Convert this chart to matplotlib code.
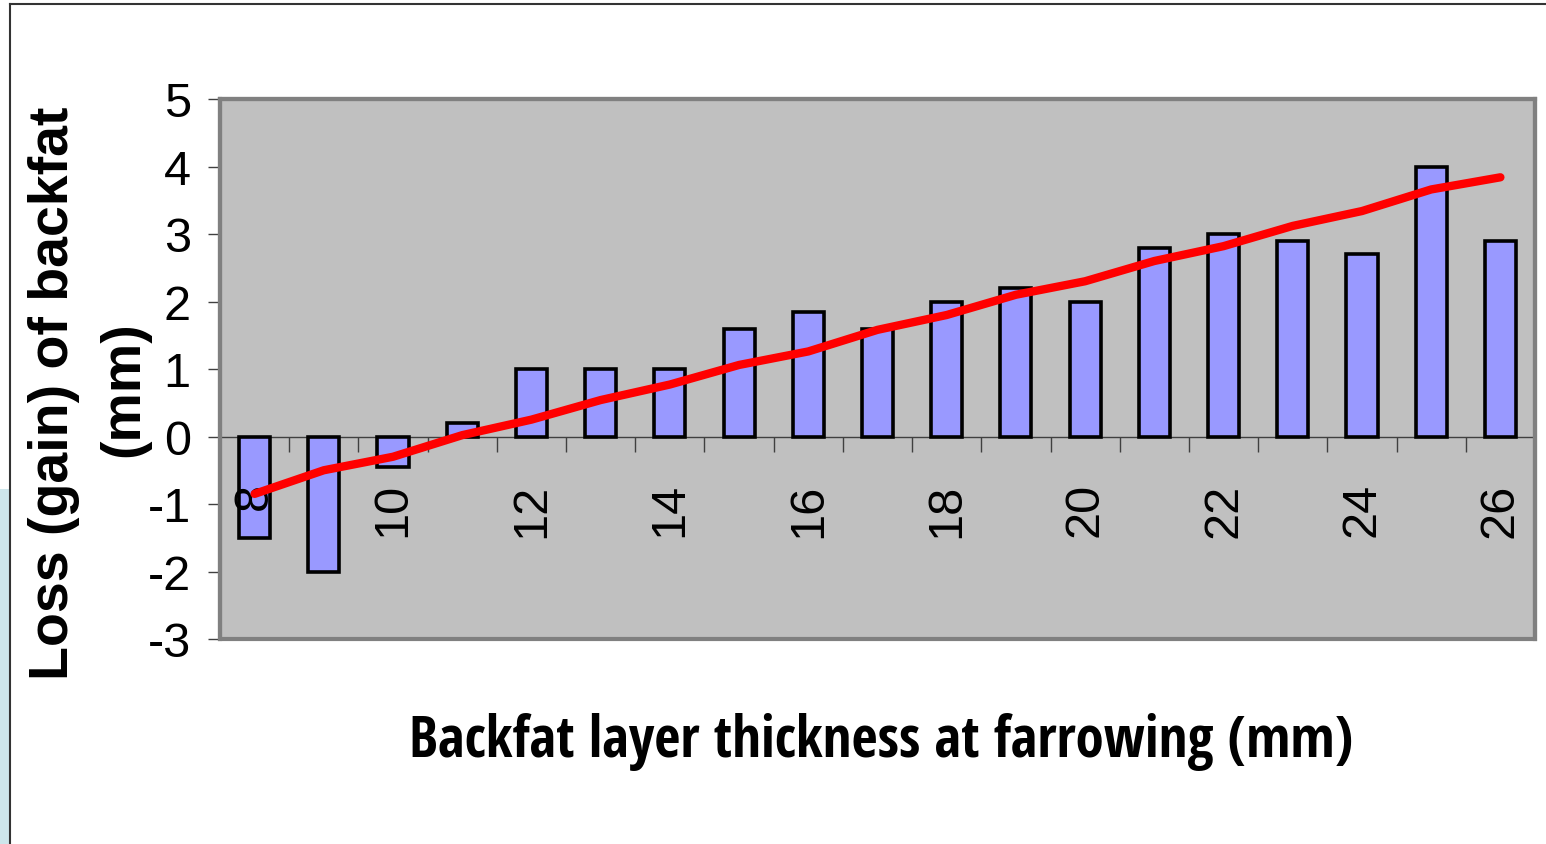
import matplotlib
matplotlib.use("Agg")
import matplotlib.pyplot as plt
from matplotlib.patches import Rectangle
from matplotlib.lines import Line2D
from matplotlib import font_manager
import numpy as np

# ---- data ----
categories = [8, 9, 10, 11, 12, 13, 14, 15, 16, 17, 18, 19, 20, 21, 22, 23, 24, 25, 26]
bar_values = [-1.5, -2.0, -0.45, 0.2, 1.0, 1.0, 1.0, 1.6, 1.85, 1.6, 2.0, 2.2, 2.0, 2.8, 3.0, 2.9, 2.7, 4.0, 2.9]
trend_values = [-0.85, -0.5, -0.3, 0.02, 0.25, 0.54, 0.77, 1.06, 1.26, 1.58, 1.8, 2.1, 2.3, 2.6, 2.82, 3.12, 3.34, 3.66, 3.84]
y_ticks = [-3, -2, -1, 0, 1, 2, 3, 4, 5]
x_label_cats = [8, 10, 12, 14, 16, 18, 20, 22, 24, 26]
y_title_line1 = "Loss (gain) of backfat"
y_title_line2 = "(mm)"
x_title = "Backfat layer thickness at farrowing (mm)"

W, H = 1546, 845
fig = plt.figure(figsize=(W / 100, H / 100), dpi=100)
fig.patch.set_facecolor("white")

# outer decorations
fig.patches.append(Rectangle((0, 0), 10 / W, 1 - 490 / H, transform=fig.transFigure,
                             facecolor="#CDE6EB", edgecolor="none", zorder=0))
fig.lines.append(Line2D([10 / W, 1], [1 - 5 / H, 1 - 5 / H], transform=fig.transFigure,
                        color="#333333", lw=1.5))
fig.lines.append(Line2D([10 / W, 10 / W], [0, 1 - 5 / H], transform=fig.transFigure,
                        color="#333333", lw=1.5))

ax = fig.add_axes([220 / W, 1 - 640 / H, 1315 / W, 540 / H])
ax.set_facecolor("#C0C0C0")

idx = np.arange(len(categories))
ax.bar(idx, bar_values, width=0.45, color="#9999FF", edgecolor="black", linewidth=2.6, zorder=2)
ax.plot(idx, trend_values, color="#FF0000", lw=6, solid_capstyle="round", zorder=4)

ax.set_xlim(-0.5, len(categories) - 0.5)
ax.set_ylim(-3, 5)

# spines / frame
for s in ["top", "right", "left"]:
    ax.spines[s].set_color("#808080")
    ax.spines[s].set_linewidth(3)
ax.spines["bottom"].set_position(("data", 0))
ax.spines["bottom"].set_color("#404040")
ax.spines["bottom"].set_linewidth(1)
ax.spines["bottom"].set_zorder(1)
ax.add_patch(Rectangle((0, 0), 1, 1, transform=ax.transAxes, fill=False,
                       edgecolor="#808080", lw=3, clip_on=False, zorder=5))

tick_font = ["Liberation Sans", "Arial", "DejaVu Sans"]

# y axis
ax.set_yticks(y_ticks)
ax.set_yticklabels([str(v) for v in y_ticks], fontfamily=tick_font, fontsize=35)
ax.tick_params(axis="y", direction="out", length=9, width=1, color="#404040", pad=12)

# x axis: ticks at category boundaries, labels every other category
ax.set_xticks(np.arange(-0.5, len(categories), 1.0))
ax.set_xticklabels([])
lab_pos = [categories.index(c) for c in x_label_cats]
ax.set_xticks(lab_pos, minor=True)
ax.set_xticklabels([str(c) for c in x_label_cats], minor=True, rotation=90,
                   fontfamily=tick_font, fontsize=35)
ax.tick_params(axis="x", which="major", direction="out", length=11, width=1, color="#404040")
ax.tick_params(axis="x", which="minor", length=0, pad=33)
ax.xaxis.set_zorder(3)

# y titles
ylab_font = ["Liberation Sans", "DejaVu Sans"]
fig.text(54 / W, 1 - 393 / H, y_title_line1, rotation=90, ha="center", va="center",
         fontsize=40, fontweight="bold", family=ylab_font)
fig.text(124 / W, 1 - 389 / H, y_title_line2, rotation=90, ha="center", va="center",
         fontsize=40, fontweight="bold", family=ylab_font)

# x title: prefer a narrow bold face, scale to the reference width
names = {f.name for f in font_manager.fontManager.ttflist}
pick = None
for cand in ["Liberation Sans Narrow", "Arial Narrow", "Open Sans Condensed",
             "Roboto Condensed", "Noto Sans Condensed"]:
    if cand in names:
        pick = cand
        break
if pick is None:
    for f in font_manager.fontManager.ttflist:
        if ("Narrow" in f.name or "Condensed" in f.name) and "DejaVu" not in f.name:
            pick = f.name
            break
family = [pick, "Liberation Sans", "DejaVu Sans"] if pick else ["Liberation Sans", "DejaVu Sans"]
xt = fig.text(881 / W, 1 - 742 / H, x_title, ha="center", va="center",
              fontweight="bold", family=family, fontsize=41)
fig.canvas.draw()
width_px = xt.get_window_extent().width
target = 952.0
if width_px > target:
    xt.set_fontsize(41 * target / width_px)

fig.savefig("out.png", dpi=100)
